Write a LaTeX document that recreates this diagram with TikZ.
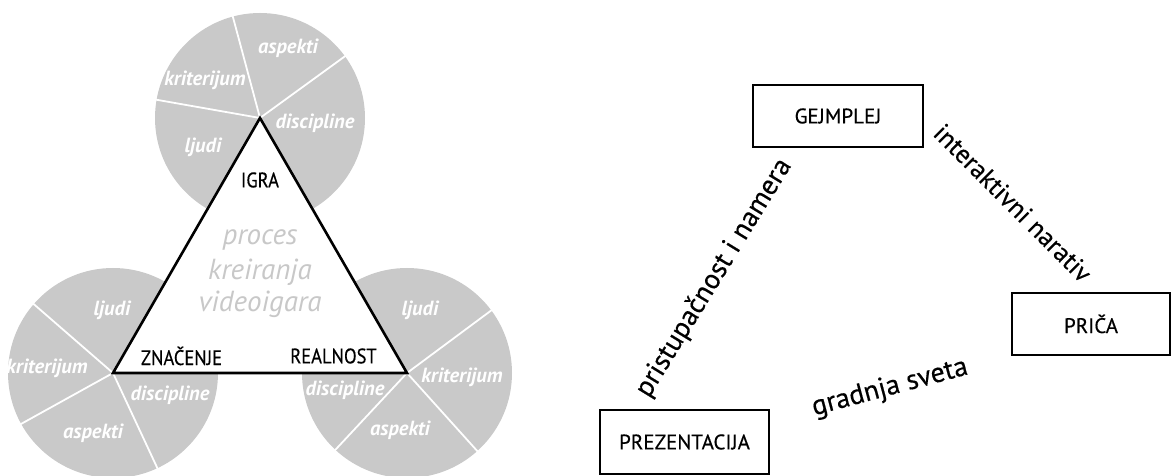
\documentclass[tikz,border=0pt]{standalone}
\usepackage{fontspec}
\setmainfont{PT Sans}
\newfontfamily\dinlike[FakeBold=0.4]{PT Sans}
\newfontfamily\dincond[FakeBold=0.4,FakeStretch=0.88]{PT Sans}
\definecolor{piegray}{HTML}{C9C9C9}
\definecolor{txtgray}{HTML}{C8C8C8}
\tikzset{
  pie/.style={fill=piegray},
  cut/.style={draw=white, line width=1.8pt},
  wlab/.style={text=white, font=\fontsize{20.5}{22}\selectfont\bfseries\itshape, inner sep=0pt},
  blab/.style={text=black, font=\dincond\fontsize{21}{23}\selectfont, inner sep=0pt},
  glab/.style={text=txtgray, font=\fontsize{29}{31}\selectfont\itshape, inner sep=0pt},
  boxnode/.style={draw=black, line width=2.4pt, font=\dinlike\fontsize{21}{23}\selectfont, inner sep=0pt},
  rlab/.style={text=black, font=\dinlike\fontsize{28}{30}\selectfont, inner sep=0pt},
}
\begin{document}
\begin{tikzpicture}[x=1pt,y=1pt]
\useasboundingbox (0,0) rectangle (1171,476);
% circles
\coordinate (ct) at (260,358);
\coordinate (cl) at (113,103);
\coordinate (cr) at (407,103);
\fill[pie] (ct) circle (105);
\fill[pie] (cl) circle (105);
\fill[pie] (cr) circle (105);
\foreach \a in {36,105,170} \draw[cut] (ct) -- ++(\a:106);
\foreach \a in {139,209,295} \draw[cut] (cl) -- ++(\a:106);
\foreach \a in {36.6,-48,-133} \draw[cut] (cr) -- ++(\a:106);
% circle labels
\node[wlab] (t1) at (288,428) {aspekti};
\node[wlab] (t2) at (205,396) {kriterijum};
\node[wlab] (t3) at (315,353) {discipline};
\node[wlab] (t4) at (203,329) {ljudi};
\node[wlab] (l1) at (112,166) {ljudi};
\node[wlab] (l2) at (47,108) {kriterijum};
\node[wlab] (l3) at (170,81) {discipline};
\node[wlab] (l4) at (93,43) {aspekti};
\node[wlab] (r1) at (420,166) {ljudi};
\node[wlab] (r2) at (462,99) {kriterijum};
\node[wlab] (r3) at (345,86) {discipline};
\node[wlab] (r4) at (400,46) {aspekti};
% triangle
\filldraw[fill=white, draw=black, line width=2.6pt, line join=miter] (ct) -- (cl) -- (cr) -- cycle;
\node[blab] (igra) at (260,296) {IGRA};
\node[blab] (zn) at (181.5,120) {ZNAČENJE};
\node[blab] (re) at (333.5,120) {REALNOST};
\node[glab] (g1) at (260,236) {proces};
\node[glab] (g2) at (260,204) {kreiranja};
\node[glab] (g3) at (260,172) {videoigara};
% right diagram
\node[boxnode, minimum width=170pt, minimum height=62pt] (gej) at (838,360) {GEJMPLEJ};
\node[boxnode, minimum width=158pt, minimum height=62pt] (pri) at (1091,152) {PRIČA};
\node[boxnode, minimum width=169pt, minimum height=64pt] (pre) at (684.5,34) {PREZENTACIJA};
\node[rlab, rotate=58.5] (pin) at (714,198) {pristupačnost i namera};
\node[rlab, rotate=-45, font=\dinlike\fontsize{26}{28}\selectfont] (inn) at (1013,273) {interaktivni narativ};
\node[rlab, rotate=15] (gs) at (890,88) {gradnja sveta};
\end{tikzpicture}
\end{document}
